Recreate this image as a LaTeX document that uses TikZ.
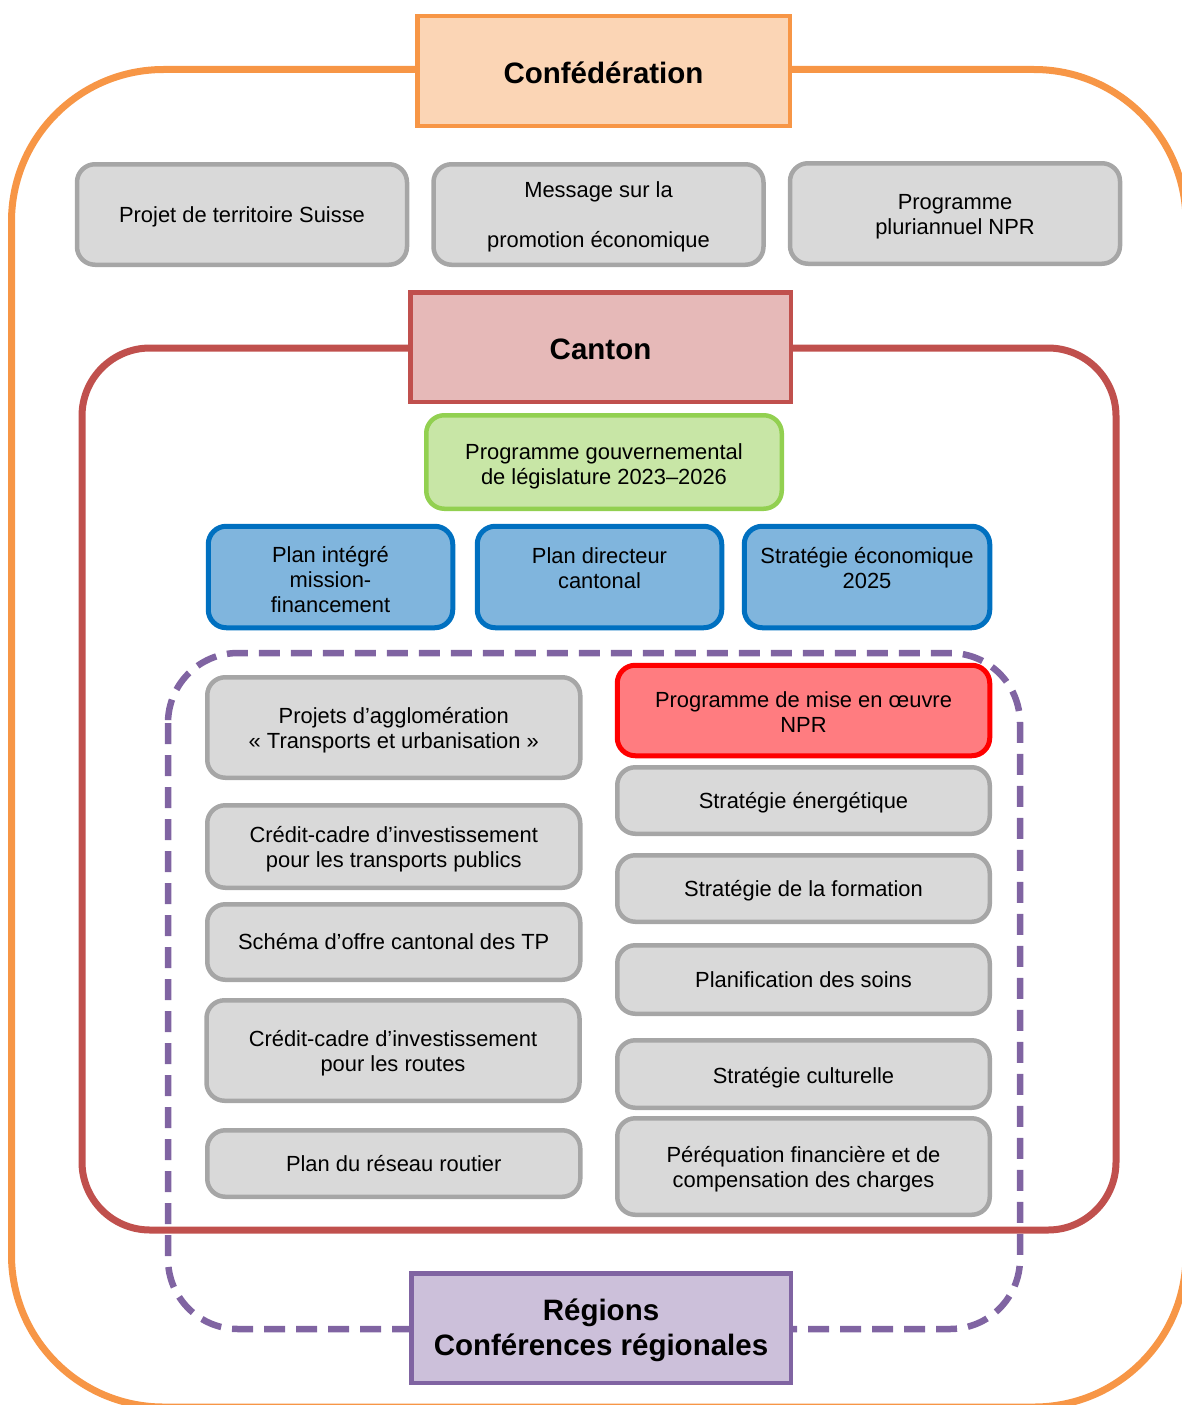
\documentclass[tikz,border=0pt]{standalone}
\usepackage{fontspec}
\setmainfont{Liberation Sans}
\definecolor{orgS}{HTML}{F79646}
\definecolor{orgF}{HTML}{FBD5B5}
\definecolor{grayF}{HTML}{D9D9D9}
\definecolor{grayS}{HTML}{A6A6A6}
\definecolor{redS}{HTML}{C0504D}
\definecolor{redF}{HTML}{E6B9B8}
\definecolor{grnS}{HTML}{92D050}
\definecolor{grnF}{HTML}{C8E6A6}
\definecolor{bluS}{HTML}{0070C0}
\definecolor{bluF}{HTML}{80B5DD}
\definecolor{npS}{HTML}{FF0000}
\definecolor{npF}{HTML}{FF7C80}
\definecolor{purS}{HTML}{8064A2}
\definecolor{purF}{HTML}{CCC0DA}
\newcommand\wstrut{\rule[-0.212em]{0pt}{1.117em}}
\newcommand\wtopstrut[1]{\rule[-0.212em]{0pt}{\dimexpr 1.117em+#1\relax}}
\begin{document}
\begin{tikzpicture}[x=1pt,y=-1pt,
  txt/.style={align=center, inner sep=0pt, font=\fontsize{21.9}{25}\selectfont,
    execute at begin node=\wstrut, execute at end node=\wstrut},
  dn/.style={execute at begin node={\wtopstrut{#1}}},
  rbox/.style={txt, draw, rounded corners=18pt, line width=4.5pt},
  gbox/.style={rbox, fill=grayF, draw=grayS},
  bbox/.style={rbox, fill=bluF, draw=bluS, line width=5pt, minimum width=244.5pt, minimum height=101.5pt},
  hdr/.style={draw, line width=4.5pt, align=center, inner sep=0pt,
    font=\fontsize{29.5}{35}\selectfont\bfseries, minimum height=109.5pt,
    execute at begin node=\wstrut, execute at end node=\wstrut},
  frame/.style={line width=7pt}
]
\useasboundingbox (0,0) rectangle (1182,1405);

% outer frames
\draw[frame, draw=orgS, rounded corners=152pt] (11.5,69.5) rectangle (1186,1407);
\node[hdr, dn=4pt, fill=orgF, draw=orgS, minimum width=372.5pt] (conf) at (603.5,71) {Confédération};

% federal boxes
\node[gbox, minimum width=330pt, minimum height=100.5pt] (p1) at (242,214.5) {Projet de territoire Suisse};
\node[gbox, minimum width=330pt, minimum height=100.5pt, font=\fontsize{21.9}{50}\selectfont] (p2) at (598.5,214.5) {\wtopstrut{1.4pt}Message sur la\\promotion économique};
\node[gbox, minimum width=330pt, minimum height=100.5pt] (p3) at (955,213.5) {\wtopstrut{1.4pt}Programme\\pluriannuel NPR};

% canton frame
\draw[frame, draw=redS, rounded corners=68pt] (82,348) rectangle (1116,1230);
\node[hdr, dn=4pt, fill=redF, draw=redS, minimum width=380.5pt] (canton) at (600.5,347) {Canton};

\node[rbox, fill=grnF, draw=grnS, minimum width=355.5pt, minimum height=93.5pt] (prog) at (604,462) {\wtopstrut{5.4pt}Programme gouvernemental\\de législature 2023–2026};

\node[bbox] (b1) at (330.5,577) {\wtopstrut{6pt}Plan intégré\\mission-\\financement};
\node[bbox] (b2) at (599.5,577) {\wtopstrut{7.4pt}Plan directeur\\cantonal\\\mbox{}};
\node[bbox, minimum width=245.5pt] (b3) at (867,577) {\wtopstrut{7.4pt}Stratégie économique\\2025\\\mbox{}};

% regions frame (dashed)
\draw[line width=6.5pt, draw=purS, dash pattern=on 21pt off 11pt, rounded corners=70pt] (168,653) rectangle (1020,1329);
\node[hdr, fill=purF, draw=purS, minimum width=379.5pt] (reg) at (601,1328) {\wtopstrut{0pt}Régions\\Conférences régionales};

% left column
\node[gbox, minimum width=373pt, minimum height=100.5pt] (l1) at (393.75,727.5) {\wtopstrut{2.4pt}Projets d’agglomération\\« Transports et urbanisation »};
\node[gbox, minimum width=373pt, minimum height=82.5pt] (l2) at (393.75,846.5) {\wtopstrut{1.4pt}Crédit-cadre d’investissement\\pour les transports publics};
\node[gbox, minimum width=373pt, minimum height=75.5pt] (l3) at (393.75,942) {Schéma d’offre cantonal des TP};
\node[gbox, minimum width=373pt, minimum height=100.5pt] (l4) at (393,1050.5) {\wtopstrut{1.4pt}Crédit-cadre d’investissement\\pour les routes};
\node[gbox, minimum width=373pt, minimum height=66.5pt] (l5) at (393.75,1163.5) {Plan du réseau routier};

% right column
\node[rbox, fill=npF, draw=npS, line width=5pt, minimum width=372.5pt, minimum height=90.5pt] (r1) at (803.5,710.5) {\wtopstrut{3.4pt}Programme de mise en œuvre\\NPR};
\node[gbox, minimum width=372.5pt, minimum height=66.5pt] (r2) at (803.5,800.5) {Stratégie énergétique};
\node[gbox, minimum width=372.5pt, minimum height=66.5pt] (r3) at (803.5,888.5) {Stratégie de la formation};
\node[gbox, minimum width=372.5pt, minimum height=68.5pt] (r4) at (803.5,979.5) {Planification des soins};
\node[gbox, dn=4pt, minimum width=372.5pt, minimum height=67.5pt] (r5) at (803.5,1074) {Stratégie culturelle};
\node[gbox, minimum width=372.5pt, minimum height=96.5pt] (r6) at (803.5,1166.5) {\wtopstrut{1.4pt}Péréquation financière et de\\compensation des charges};
\end{tikzpicture}
\end{document}
